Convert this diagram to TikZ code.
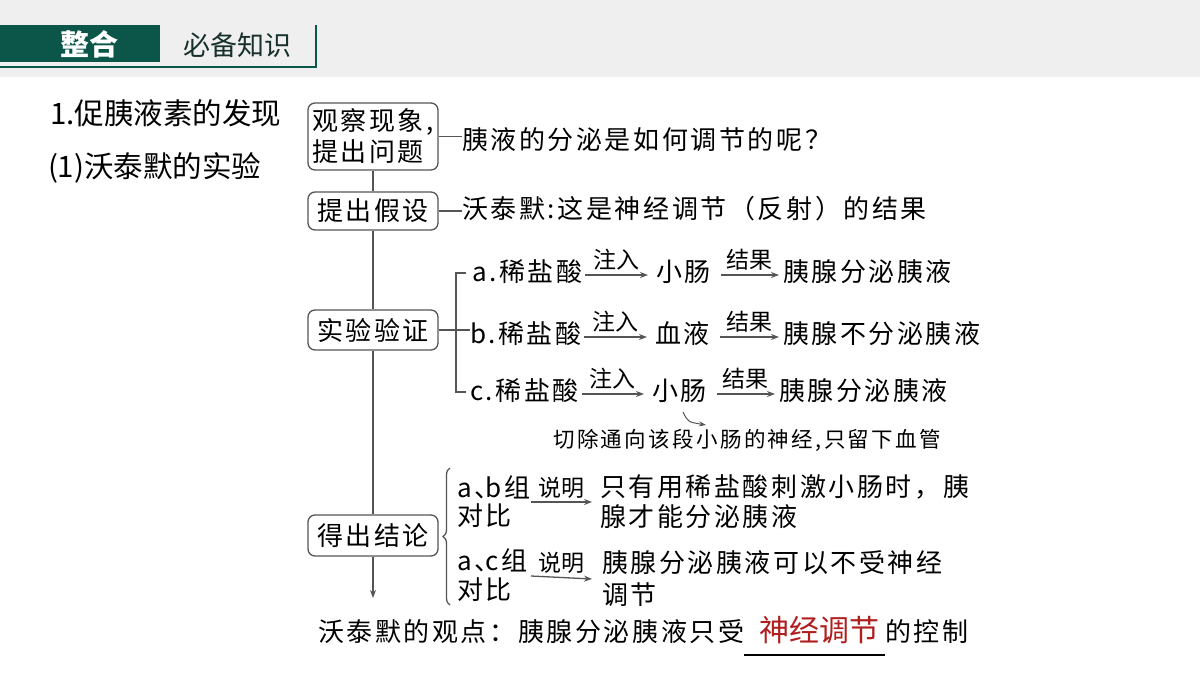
\documentclass[tikz,border=0pt]{standalone}
\usepackage{fontspec}
\setmainfont{Noto Sans CJK SC}
\newfontfamily\lsfont[LetterSpace=10]{Noto Sans CJK SC}
\newfontfamily\nsfont[LetterSpace=11]{Noto Sans CJK SC}
\usetikzlibrary{arrows.meta,decorations.pathreplacing,calc}
\definecolor{hdr}{HTML}{0B5648}
\definecolor{hdrbg}{HTML}{EFEFEF}
\definecolor{hdrtxt}{HTML}{17302B}
\definecolor{ln}{HTML}{555555}
\definecolor{redt}{HTML}{B01E1E}
\newcommand\mainf{\fontsize{26}{31}\selectfont\lsfont}
\newcommand\labf{\fontsize{23}{26}\selectfont}
\newcommand\notef{\fontsize{21.5}{25}\selectfont\nsfont}
\newcommand\titf{\fontsize{29.5}{33}\selectfont}
\newcommand\dun{{、\hspace{-0.55em}}}
\begin{document}
\begin{tikzpicture}[x=1pt,y=-1pt,
  t/.style={anchor=west,inner sep=0pt,outer sep=0pt,font=\mainf},
  tt/.style={anchor=west,inner sep=0pt,outer sep=0pt,font=\titf},
  lab/.style={inner sep=0pt,font=\labf},
  box/.style={draw=ln,line width=1.3pt,rounded corners=7pt,minimum width=130pt,inner sep=0pt,align=left,font=\mainf},
  ln/.style={draw=ln,line width=1.3pt},
  arr/.style={ln,-{Stealth[length=8pt,width=6pt]}}]
\useasboundingbox (0,0) rectangle (1200,675);
\fill[white] (0,0) rectangle (1200,675);
\fill[hdrbg] (0,0) rectangle (1200,77);
% header
\fill[hdr] (0,25) rectangle (160,62);
\node[inner sep=0pt,text=white,font=\fontsize{29}{32}\selectfont\bfseries] (hz) at (89,44) {整合};
\node[inner sep=0pt,text=hdrtxt,font=\fontsize{27}{30}\selectfont] (hb) at (237,45) {必备知识};
\draw[hdr,line width=1.5pt] (0,67) -- (316,67) -- (316,25);
% titles
\node[tt] (t1) at (50,113) {1.促胰液素的发现};
\node[tt] (t2) at (48,168) {(1)沃泰默的实验};
% boxes
\node[box,minimum height=67pt] (b1) at (373,136.5) {观察现象,\\提出问题};
\node[box,minimum height=38pt] (b2) at (373,211) {提出假设};
\node[box,minimum height=40pt] (b3) at (373,330) {实验验证};
\node[box,minimum height=41pt] (b4) at (373,535.5) {得出结论};
\coordinate (tend) at (373,598);
\draw[ln] (b1) -- (b2);
\draw[ln] (b2) -- (b3);
\draw[ln] (b3) -- (b4);
\draw[arr] (b4) -- (tend);
% side texts
\node[t] (q1) at (462,140) {胰液的分泌是如何调节的呢？};
\node[t] (q2) at (462,209) {沃泰默:这是神经调节（反射）的结果};
\draw[ln] (b1.east) -- (b1.east -| q1.west);
\draw[ln] (b2.east) -- (b2.east -| q2.west);
% experiment rows
\node[t] (ra) at (472,272) {a.稀盐酸};
\node[t] (ia) at (656,272) {小肠};
\node[t] (ea) at (783,272) {胰腺分泌胰液};
\node[t] (rb) at (470,334) {b.稀盐酸};
\node[t] (ib) at (655,334) {血液};
\node[t] (eb) at (783,334) {胰腺不分泌胰液};
\node[t] (rc) at (470,391) {c.稀盐酸};
\node[t] (ic) at (652,391) {小肠};
\node[t] (ec) at (779,391) {胰腺分泌胰液};
\draw[ln] (466,273) -- (456,273) -- (456,392) -- (466,392);
\draw[ln] (b3.east) -- (b3.east -| rb.west);
\foreach \r/\i/\e in {ra/ia/ea,rb/ib/eb,rc/ic/ec}{
  \draw[arr] ([xshift=3pt,yshift=-3pt]\r.east) -- ([xshift=-8pt,yshift=-3pt]\i.west) node[lab,midway,above=4pt]{注入};
  \draw[arr] ([xshift=10pt,yshift=-3pt]\i.east) -- ([xshift=-4pt,yshift=-3pt]\e.west) node[lab,midway,above=4pt]{结果};
}
\node[anchor=west,inner sep=0pt,font=\notef] (note) at (553,440) {切除通向该段小肠的神经,只留下血管};
\draw[ln,line width=1pt,-{Stealth[length=7pt,width=5pt]}] (683,412) .. controls (688,422) .. (706,425);
% conclusions
\draw[ln,decorate,decoration={brace,amplitude=7pt}] (450,605) -- (450,468);
\node[t] (g1) at (457,487) {a\dun b组};
\node[t] (g1b) at (457,516) {对比};
\node[t] (c1) at (600,487) {只有用稀盐酸刺激小肠时，胰};
\node[t] (c1b) at (600,517) {腺才能分泌胰液};
\node[t] (g2) at (457,560) {a\dun c组};
\node[t] (g2b) at (457,590) {对比};
\node[t] (c2) at (602,563) {胰腺分泌胰液可以不受神经};
\node[t] (c2b) at (602,595) {调节};
\draw[arr] (531,502) -- ($(c1.west)!0.5!(c1b.west)+(-8,0)$) node[lab,midway,above=3pt]{说明};
\draw[arr] (531,576) -- ($(c2.west)!0.5!(c2b.west)+(-10,0)$) node[lab,midway,above=3pt]{说明};
% final
\node[t] (f1) at (318,632) {沃泰默的观点：胰腺分泌胰液只受};
\node[inner sep=0pt,text=redt,font=\fontsize{30}{33}\selectfont] (ans) at (819,630) {神经调节};
\node[t] (f2) at (885,632) {的控制};
\draw[line width=1.3pt] (f1.east |- 0,655) -- (f2.west |- 0,655);
\end{tikzpicture}
\end{document}
